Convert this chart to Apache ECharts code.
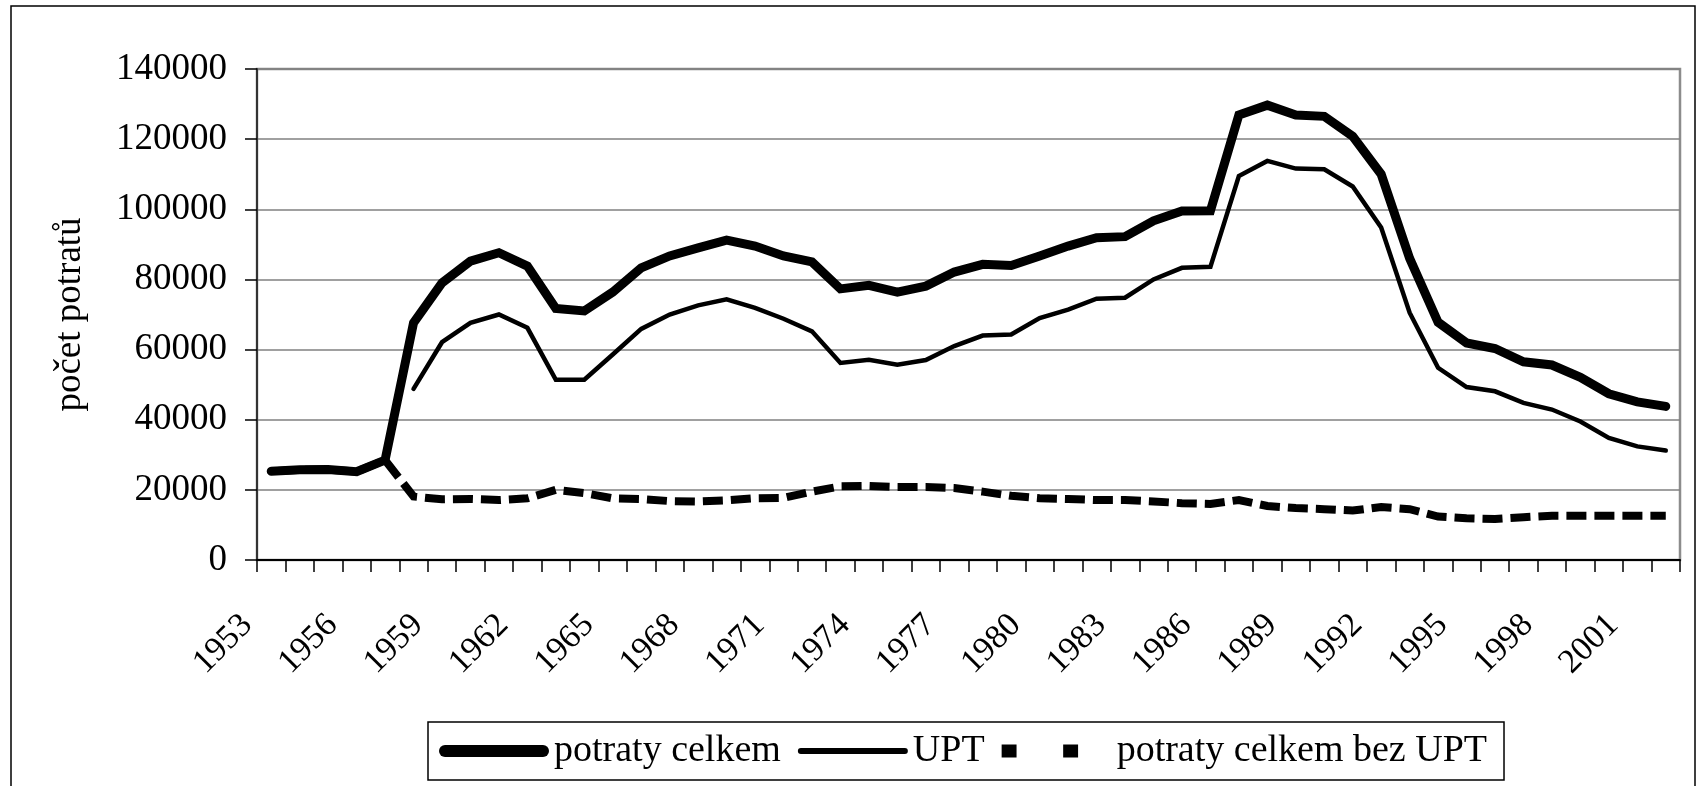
<!DOCTYPE html>
<html>
<head>
<meta charset="utf-8">
<script src="https://cdn.jsdelivr.net/npm/echarts@6/dist/echarts.min.js"></script>
<style>
  html, body { margin: 0; padding: 0; background: #fff; }
  #chart { width: 1700px; height: 786px; }
</style>
</head>
<body>
<div id="chart"></div>
<script>
// roky 1953-2002
var years = [];
for (var y = 1953; y <= 2002; y++) years.push(String(y));

// potraty celkem
var potratyCelkem = [
  25300, 25700, 25800, 25200, 28500, 67600, 79000, 85200, 87600, 83800,
  71700, 71000, 76400, 83300, 86700, 89000, 91200, 89500, 86700, 85000,
  77300, 78300, 76400, 78100, 82100, 84300, 84000, 86700, 89500, 91900,
  92200, 96700, 99500, 99600, 126900, 129700, 126900, 126500, 120800, 110000,
  86000, 67800, 61900, 60300, 56500, 55600, 52100, 47400, 45100, 43800
];

// UPT (od 1958)
var upt = [
  null, null, null, null, null, 48800, 62100, 67600, 70000, 66200,
  51400, 51400, 58600, 65900, 70000, 72600, 74300, 71900, 68800, 65200,
  56200, 57100, 55700, 57000, 61000, 64000, 64300, 69000, 71400, 74500,
  74800, 80000, 83300, 83600, 109500, 113800, 111600, 111400, 106500, 94800,
  70500, 54800, 49300, 48100, 44800, 42900, 39500, 34800, 32400, 31200
];

// potraty celkem bez UPT
var bezUpt = [
  25300, 25700, 25800, 25200, 28500, 18100, 17300, 17400, 17100, 17600,
  20000, 19100, 17600, 17400, 16800, 16700, 17000, 17600, 17700, 19500,
  21000, 21100, 20800, 20800, 20500, 19500, 18300, 17600, 17400, 17100,
  17100, 16700, 16200, 16000, 17100, 15400, 14800, 14500, 14100, 15100,
  14500, 12400, 11900, 11700, 12200, 12600, 12600, 12600, 12600, 12600
];

var yMin = 0, yMax = 140000, yStep = 20000;
var serif = 'Liberation Serif';

var chart = echarts.init(document.getElementById('chart'), null, { renderer: 'canvas' });

var option = {
  animation: false,
  backgroundColor: '#fff',
  graphic: [{
    type: 'rect',
    silent: true,
    z: -10,
    shape: { x: 11, y: 6, width: 1684, height: 800 },
    style: { fill: 'none', stroke: '#000', lineWidth: 1.5 }
  }],
  grid: {
    left: 257, right: 20, top: 69, bottom: 226,
    show: true,
    borderColor: '#8c8c8c',
    borderWidth: 2.5,
    backgroundColor: 'transparent'
  },
  legend: {
    left: 428,
    top: 722,
    padding: [10, 17, 10, 11],
    borderColor: '#000',
    borderWidth: 1.5,
    itemWidth: 110,
    itemHeight: 14,
    itemGap: 17,
    symbolKeepAspect: true,
    itemStyle: { color: '#000', borderWidth: 0 },
    textStyle: { fontFamily: serif, fontSize: 38, color: '#000' },
    data: [
      { name: 'potraty celkem', icon: 'path://M6,0 H104 A6,6 0 0 1 104,12 H6 A6,6 0 0 1 6,0 Z' },
      { name: 'UPT', icon: 'path://M3,0 H107 A3,3 0 0 1 107,6 H3 A3,3 0 0 1 3,0 Z' },
      { name: 'potraty celkem bez UPT', icon: 'path://M0,0 H16 V14 H0 Z M66,0 H82 V14 H66 Z M118,0 L118,14' }
    ]
  },
  xAxis: {
    type: 'category',
    data: years,
    boundaryGap: true,
    axisLine: { lineStyle: { color: '#000', width: 2 } },
    axisTick: { show: true, interval: 0, length: 12, lineStyle: { color: '#000', width: 1.5 } },
    axisLabel: {
      interval: 2,
      rotate: 45,
      margin: 36,
      padding: [0, 34, 0, 0],
      fontFamily: serif,
      fontSize: 34,
      color: '#000'
    },
    splitLine: { show: false }
  },
  yAxis: {
    type: 'value',
    min: yMin,
    max: yMax,
    interval: yStep,
    name: 'počet potratů',
    nameLocation: 'middle',
    nameGap: 168,
    nameTextStyle: { fontFamily: serif, fontSize: 37, color: '#000' },
    axisLine: { show: true, lineStyle: { color: '#333', width: 2 } },
    axisTick: { show: true, length: 12, lineStyle: { color: '#000', width: 1.5 } },
    axisLabel: {
      margin: 30, fontFamily: serif, fontSize: 37, color: '#000',
      formatter: function (v) { return String(v); }
    },
    splitLine: { lineStyle: { color: '#808080', width: 1.5 } }
  },
  series: [
    {
      name: 'potraty celkem',
      type: 'line',
      data: potratyCelkem,
      symbol: 'none',
      lineStyle: { color: '#000', width: 9, cap: 'round', join: 'miter' },
      itemStyle: { color: '#000' }
    },
    {
      name: 'UPT',
      type: 'line',
      data: upt,
      symbol: 'none',
      lineStyle: { color: '#000', width: 4.5, cap: 'round', join: 'miter' },
      itemStyle: { color: '#000' }
    },
    {
      name: 'potraty celkem bez UPT',
      type: 'line',
      data: bezUpt,
      symbol: 'none',
      lineStyle: { color: '#000', width: 8, type: [20, 8], dashOffset: 22, cap: 'butt', join: 'miter' },
      itemStyle: { color: '#000' }
    }
  ]
};

chart.setOption(option);
</script>
</body>
</html>
